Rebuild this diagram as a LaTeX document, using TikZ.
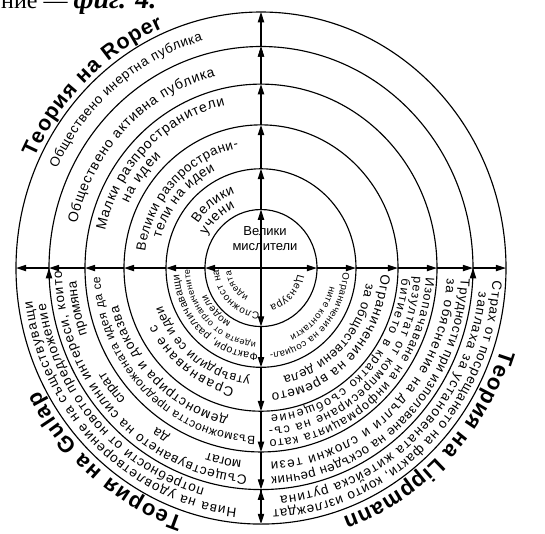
\documentclass[tikz,border=0pt]{standalone}
\usepackage{fontspec}
\setmainfont{Liberation Sans}
\newfontfamily\headfont{Liberation Serif}
\usetikzlibrary{arrows.meta,decorations.text}
\newlength\arcwd
\newlength\arctmp
% text on a clockwise arc, shrunk to fit: [size,series](start:end:radius){text}
\def\arcsize[#1,#2](#3:#4:#5)#6{%
  \pgfinterruptpicture\settowidth{\arctmp}{\normalfont#2\fontsize{#1}{#1}\selectfont #6}\global\arcwd=\arctmp\endpgfinterruptpicture
  \pgfmathsetmacro\arcfs{#1*min(1,0.95*abs((#3)-(#4))*pi/180*#5/max(\arcwd,1))}}
\def\arctext[#1,#2](#3:#4:#5)#6{\arcsize[#1,#2](#3:#4:#5){#6}%
  \path[decorate,decoration={text along path,text align=fit to path,text={|#2\fontsize{\arcfs}{\arcfs}\selectfont|#6}}] (#3:#5) arc[start angle=#3,end angle=#4,radius=#5];}
\def\arcwords[#1,#2](#3:#4:#5)#6{\arcsize[#1,#2](#3:#4:#5){#6}%
  \path[decorate,decoration={text along path,text align=fit to path stretching spaces,text={|#2\fontsize{\arcfs}{\arcfs}\selectfont|#6}}] (#3:#5) arc[start angle=#3,end angle=#4,radius=#5];}
\tikzset{
  ring/.style={line width=0.4mm},
  spoke/.style={line width=0.4mm,-{Triangle[length=3.6mm,width=2.2mm]}}
}

\begin{document}
\begin{tikzpicture}[x=1pt,y=1.045pt]
			%%%%% START %%%%%
			\useasboundingbox (-261,-254.5) rectangle (284,256.5);
			
			\node[anchor=base west, inner sep=0pt, font=\headfont\fontsize{24}{28}\selectfont] (caption) at (-260,248.4) {ние — {\fontsize{28}{32}\selectfont\bfseries\itshape фиг. 4.}};
			
			\path (0,0) coordinate (O)
			  (56,0) coordinate (E1) (95,0) coordinate (E2) (137,0) coordinate (E3)
			  (176,0) coordinate (E4) (212,0) coordinate (E5) (245,0) coordinate (E6)
			  (-56,0) coordinate (W1) (-95,0) coordinate (W2) (-137,0) coordinate (W3)
			  (-176,0) coordinate (W4) (-212,0) coordinate (W5) (-245,0) coordinate (W6)
			  (0,56) coordinate (N1) (0,95) coordinate (N2) (0,137) coordinate (N3)
			  (0,176) coordinate (N4) (0,212) coordinate (N5) (0,245) coordinate (N6)
			  (0,-56) coordinate (S1) (0,-95) coordinate (S2) (0,-137) coordinate (S3)
			  (0,-176) coordinate (S4) (0,-212) coordinate (S5) (0,-245) coordinate (S6);
			
			\draw[ring] (O) circle[radius=56];
			\draw[ring] (O) circle[radius=95];
			\draw[ring] (O) circle[radius=137];
			\draw[ring] (O) circle[radius=176];
			\draw[ring] (O) circle[radius=212];
			\draw[ring] (O) circle[radius=245];
			
			\draw[spoke] (O) edge (E1) (E1) edge (E2) (E2) edge (E3) (E3) edge (E4) (E4) edge (E5) (E5) edge (E6);
			\draw[spoke] (O) edge (W1) (W1) edge (W2) (W2) edge (W3) (W3) edge (W4) (W4) edge (W5) (W5) edge (W6);
			\draw[spoke] (O) edge (N1) (N1) edge (N2) (N2) edge (N3) (N3) edge (N4) (N4) edge (N5) (N5) edge (N6);
			\draw[spoke] (O) edge (S1) (S1) edge (S2) (S2) edge (S3) (S3) edge (S4) (S4) edge (S5) (S5) edge (S6);
			
			\node[font=\fontsize{13}{15}\selectfont, align=center] (thinkers) at (4,28) {Велики\\мислители};
			
			% Roper
			\arctext[14,\mdseries](146:110:76){Велики}
			\arctext[14,\mdseries](150:114:63){учени}
			\arctext[14,\mdseries](172:101:117){Велики разпространи-}
			\arctext[14,\mdseries](164:116:104){тели на идеи}
			\arctext[14,\mdseries](167:103:160){Малки разпространители}
			\arctext[14,\mdseries](155:133:146){на идеи}
			\arctext[14,\mdseries](167:104:189){Обществено активна публика}
			\arctext[14,\mdseries](155:105:225){Обществено инертна публика}
			\arctext[22,\bfseries](155:113:250){Теория на Roper}
			
			% Gulap
			\arctext[11,\mdseries](268:182:42){Сложност на}
			\arctext[11,\mdseries](245:185:30){идеята}
			\arctext[11,\mdseries](268:184:82){Фактори, различаващи}
			\arctext[11,\mdseries](266:181:71){идеята от ограничените}
			\arctext[11,\mdseries](240:205:60){модели}
			\arctext[13.5,\mdseries](257:207:118){Сравняване с}
			\arctext[13.5,\mdseries](264:200:105){утвърдили се идеи}
			\arctext[13.5,\mdseries](268:183:161){Възможността предложената идея да се}
			\arctext[13.5,\mdseries](257:194:147){демонстрира и доказва}
			\arctext[13.5,\mdseries](266:181:199){Съществуването на силни интереси, които}
			\arcwords[13.5,\mdseries](264:184:185){могат да спрат промяна}
			\arctext[13.5,\mdseries](264:188:231){Нива на удовлетворение на съществуващи}
			\arctext[13.5,\mdseries](255:189:218){потребности от новото предложение}
			\arctext[22,\bfseries](252:208:251){Теория на Gulap}
			
			% Lippmann
			\arctext[11,\mdseries](-10:-76:37){Цензура}
			\arctext[11,\mdseries](-3:-84:82){Ограничение на социал-}
			\arctext[11,\mdseries](-14:-66:71){ните контакти}
			\arctext[13.5,\mdseries](-3:-85:120){Ограничение на времето}
			\arctext[13.5,\mdseries](-8:-78:106){за обществени дела}
			\arctext[12.5,\mdseries](-3:-87:165){Изопачаване на информацията като}
			\arctext[12.5,\mdseries](-3:-87:153){резултат от компресиране на съ-}
			\arctext[12.5,\mdseries](-4:-86:141){битието в кратко съобщение}
			\arctext[13.5,\mdseries](-3:-87:200){Трудности при използване на оскъден речник}
			\arctext[13.5,\mdseries](-3:-87:186){за обяснение на дълги и сложни тези}
			\arctext[13.5,\mdseries](-3:-87:232){Страх от посрещането на факти, които изглеждат}
			\arctext[13.5,\mdseries](-6:-85:219){заплаха за установената житейска рутина}
			\arctext[22,\bfseries](-18:-71:252){Теория на Lippmann}
			
			%%%%% END %%%%%
\end{tikzpicture}
\end{document}
